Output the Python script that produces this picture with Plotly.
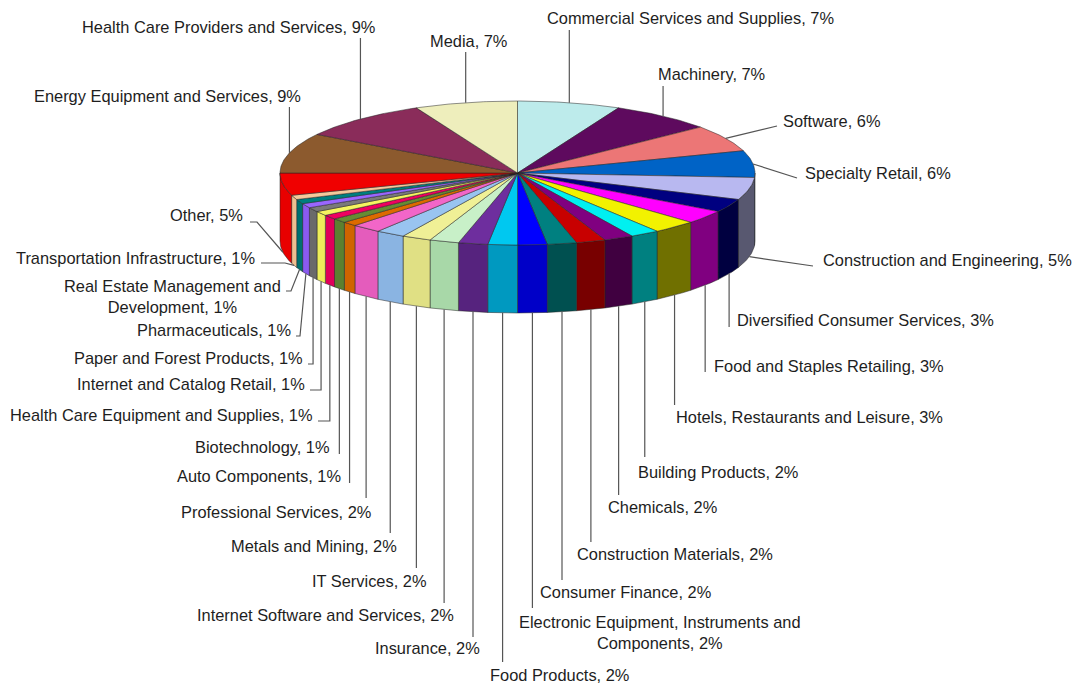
import math
import plotly.graph_objects as go

# Sector weights of the portfolio, listed clockwise from 12 o'clock
sectors = [
    "Commercial Services and Supplies", "Machinery", "Software", "Specialty Retail",
    "Construction and Engineering", "Diversified Consumer Services",
    "Food and Staples Retailing", "Hotels, Restaurants and Leisure", "Building Products",
    "Chemicals", "Construction Materials", "Consumer Finance",
    "Electronic Equipment, Instruments and Components", "Food Products", "Insurance",
    "Internet Software and Services", "IT Services", "Metals and Mining",
    "Professional Services", "Auto Components", "Biotechnology",
    "Health Care Equipment and Supplies", "Internet and Catalog Retail",
    "Paper and Forest Products", "Pharmaceuticals",
    "Real Estate Management and Development", "Transportation Infrastructure", "Other",
    "Energy Equipment and Services", "Health Care Providers and Services", "Media",
]
shares = [7, 7, 6, 6, 5, 3, 3, 3, 2, 2, 2, 2, 2, 2, 2, 2, 2, 2, 2,
          1, 1, 1, 1, 1, 1, 1, 1, 5, 9, 9, 7]

# Face colours (top) and shaded wall colours (side)
top_colors = [
    "#BDEBEB", "#5E0A5E", "#EC7676", "#0063C6", "#B8B8F0", "#000080", "#FF00FF",
    "#F2F200", "#00F0F0", "#800080", "#C80000", "#008080", "#0000FF", "#00C8F0",
    "#6E2E9E", "#C8F0C8", "#F0F096", "#99C4F0", "#F266C8", "#DD6A00", "#668C33",
    "#F00060", "#F5F560", "#7A7A7A", "#9966FF", "#007F7F", "#F5C89B", "#F00000",
    "#8C5A2E", "#8A2C5A", "#EEEEBC",
]
side_colors = [
    "#9BC0C0", "#400040", "#B05858", "#004C99", "#585870", "#000040", "#800080",
    "#707000", "#008080", "#400040", "#780000", "#005050", "#0000C8", "#0099C0",
    "#56237E", "#A8D8A8", "#E0E084", "#8AB4E2", "#E45CBC", "#D06400", "#5C8030",
    "#E0005A", "#EEEE5A", "#6A6A6A", "#8A5AF0", "#007070", "#F0C090", "#E80000",
    "#6E4622", "#6A2246", "#D0D0A0",
]

# Label placement: text position, anchor and leader path towards the text
label_layout = {
    "Commercial Services and Supplies": dict(x=545, y=18, anchor="left", tail=[("v", 30)]),
    "Machinery": dict(x=656, y=74, anchor="left", tail=[("v", 86)]),
    "Software": dict(x=781, y=121, anchor="left", tail=[(777, 126)]),
    "Specialty Retail": dict(x=803, y=173, anchor="left", tail=[(797, 178)]),
    "Construction and Engineering": dict(x=821, y=260, anchor="left", tail=[(813, 266)]),
    "Diversified Consumer Services": dict(x=735, y=320, anchor="left", tail=[("v", 327)]),
    "Food and Staples Retailing": dict(x=712, y=366, anchor="left", tail=[("v", 372)]),
    "Hotels, Restaurants and Leisure": dict(x=674, y=417, anchor="left", tail=[("v", 405)]),
    "Building Products": dict(x=636, y=472, anchor="left", tail=[("v", 457)]),
    "Chemicals": dict(x=606, y=507, anchor="left", tail=[("v", 495)]),
    "Construction Materials": dict(x=575, y=554, anchor="left", tail=[("v", 542)]),
    "Consumer Finance": dict(x=538, y=592, anchor="left", tail=[("v", 580)]),
    "Electronic Equipment, Instruments and Components": dict(
        x=660, y=632, anchor="center", tail=[("v", 608)], wrap="Electronic Equipment, Instruments and"),
    "Food Products": dict(x=488, y=675, anchor="left", tail=[("v", 662)]),
    "Insurance": dict(x=482, y=648, anchor="right", tail=[("v", 637)]),
    "Internet Software and Services": dict(x=456, y=615, anchor="right", tail=[("v", 603)]),
    "IT Services": dict(x=428, y=581, anchor="right", tail=[("v", 568)]),
    "Metals and Mining": dict(x=399, y=546, anchor="right", tail=[("v", 533)]),
    "Professional Services": dict(x=373, y=512, anchor="right", tail=[("v", 498)]),
    "Auto Components": dict(x=343, y=476, anchor="right", tail=[("v", 483)]),
    "Biotechnology": dict(x=332, y=447, anchor="right", tail=[("v", 454)]),
    "Health Care Equipment and Supplies": dict(x=315, y=415, anchor="right", tail=[("v", 421), (318, 421)]),
    "Internet and Catalog Retail": dict(x=307, y=384, anchor="right", tail=[("v", 390), (310, 390)]),
    "Paper and Forest Products": dict(x=305, y=358, anchor="right", tail=[("v", 364), (308, 364)]),
    "Pharmaceuticals": dict(x=293, y=330, anchor="right", tail=[(300, 336), (296, 336)]),
    "Real Estate Management and Development": dict(
        x=172, y=296, anchor="center", tail=[(291, 291), (286, 291)], wrap="Real Estate Management and"),
    "Transportation Infrastructure": dict(x=257, y=258, anchor="right", tail=[(285, 263), (261, 263)]),
    "Other": dict(x=245, y=215, anchor="right", tail=[(257, 222), (250, 222)]),
    "Energy Equipment and Services": dict(x=32, y=96, anchor="left", tail=[("v", 107)]),
    "Health Care Providers and Services": dict(x=80, y=27, anchor="left", tail=[("v", 38)]),
    "Media": dict(x=428, y=41, anchor="left", tail=[("v", 52)]),
}

# Pie geometry in page pixels (y grows downward)
CX, CY, RX, RY, DEPTH = 517.5, 173.0, 237.5, 72.0, 68.0
EDGE = "rgba(35,35,35,0.85)"
LEADER = "#555555"
FONT = "Liberation Sans, Arial, sans-serif"
FONT_SIZE = 16.4


def pt(theta, drop=0.0):
    return CX + RX * math.sin(theta), CY - RY * math.cos(theta) + drop


def arc(a, b, drop=0.0, per_rad=90):
    n = max(2, int(abs(b - a) * per_rad) + 2)
    return [pt(a + (b - a) * i / (n - 1), drop) for i in range(n)]


total = sum(shares)
bounds = [0.0]
for s in shares:
    bounds.append(bounds[-1] + s)
angles = [2 * math.pi * b / total for b in bounds]

fig = go.Figure()


def add_poly(points, fill):
    fig.add_trace(go.Scatter(
        x=[p[0] for p in points], y=[p[1] for p in points], mode="lines",
        fill="toself", fillcolor=fill, line=dict(color=EDGE, width=0.6),
        hoverinfo="skip", showlegend=False))


# Side walls (only the front half of the cylinder is visible)
for i in range(len(shares)):
    a = max(angles[i], math.pi / 2)
    b = min(angles[i + 1], 1.5 * math.pi)
    if b <= a:
        continue
    upper = arc(a, b, 0.0)
    lower = arc(b, a, DEPTH)
    add_poly(upper + lower + [upper[0]], side_colors[i])

# Top faces
for i in range(len(shares)):
    pts = [(CX, CY)] + arc(angles[i], angles[i + 1], 0.0) + [(CX, CY)]
    add_poly(pts, top_colors[i])

# Leader lines and labels
lx, ly = [], []
annotations = []
for i, name in enumerate(sectors):
    spec = label_layout[name]
    mid = (angles[i] + angles[i + 1]) / 2
    front = math.pi / 2 < mid < 1.5 * math.pi
    start = pt(mid, DEPTH if front else 0.0)
    path = [start]
    for step in spec["tail"]:
        if step[0] == "v":
            path.append((path[-1][0], step[1]))
        else:
            path.append(step)
    lx += [p[0] for p in path] + [None]
    ly += [p[1] for p in path] + [None]

    text = f"{name}, {shares[i]}%"
    if "wrap" in spec:
        head = spec["wrap"]
        text = head + "<br>" + text[len(head):].lstrip()
    annotations.append(dict(
        x=spec["x"], y=spec["y"], xref="x", yref="y", text=text, showarrow=False,
        xanchor=spec["anchor"], yanchor="middle", align="center",
        font=dict(family=FONT, size=FONT_SIZE, color="#1e1e1e")))

fig.add_trace(go.Scatter(x=lx, y=ly, mode="lines", line=dict(color=LEADER, width=1.2),
                         hoverinfo="skip", showlegend=False))

fig.update_layout(
    width=1074, height=687, margin=dict(l=0, r=0, t=0, b=0),
    paper_bgcolor="white", plot_bgcolor="white",
    xaxis=dict(range=[0, 1074], visible=False, fixedrange=True),
    yaxis=dict(range=[687, 0], visible=False, fixedrange=True),
    annotations=annotations, showlegend=False,
)

fig.write_html("out.html")
